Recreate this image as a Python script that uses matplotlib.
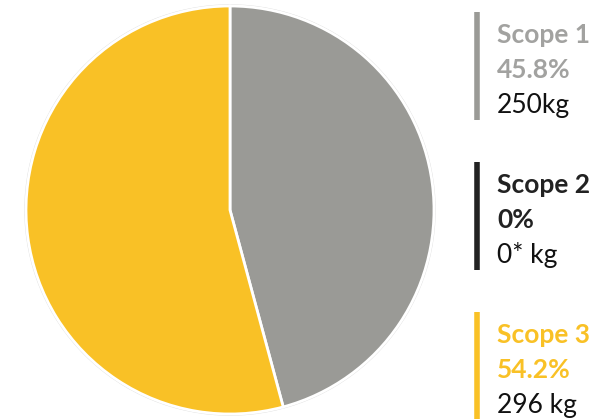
import matplotlib.pyplot as plt

scopes = ["Scope 1", "Scope 2", "Scope 3"]
shares = [45.8, 0.0, 54.2]
share_labels = ["45.8%", "0%", "54.2%"]
amounts = ["250kg", "0* kg", "296 kg"]
colors = ["#9a9a96", "#222222", "#f9c126"]
text_colors = ["#a2a2a0", "#222222", "#f9c126"]

fig = plt.figure(figsize=(6.16, 4.19), dpi=100)
ax = fig.add_axes([0, 0, 1, 1])

# zero shares would only leave a hairline, so leave them out of the pie
vals = [v for v in shares if v > 0]
cols = [c for v, c in zip(shares, colors) if v > 0]
# y axis is flipped below, so -90 is the top and counterclock runs clockwise
ax.pie(vals, colors=cols, startangle=-90, counterclock=True,
       center=(230, 210), radius=204, frame=True,
       wedgeprops=dict(edgecolor="white", linewidth=2))
ax.add_patch(plt.Circle((230, 210), 205, fill=False, ec="#dddddd", lw=1, zorder=0))
ax.set_xlim(0, 616)
ax.set_ylim(419, 0)
ax.set_aspect("equal")
ax.axis("off")

font = "Lato"
tops = [12, 162, 312]
for i, top in enumerate(tops):
    ax.plot([477, 477], [top, top + 108], color=colors[i], lw=4, solid_capstyle="butt")
    ax.text(497, top + 31, scopes[i], color=text_colors[i], fontsize=19,
            fontweight="bold", family=font, va="baseline")
    ax.text(497, top + 66, share_labels[i], color=text_colors[i], fontsize=19,
            fontweight="bold", family=font, va="baseline")
    ax.text(497, top + 101, amounts[i], color="#111111", fontsize=19,
            family=font, va="baseline")

fig.savefig("out.png", dpi=100)
